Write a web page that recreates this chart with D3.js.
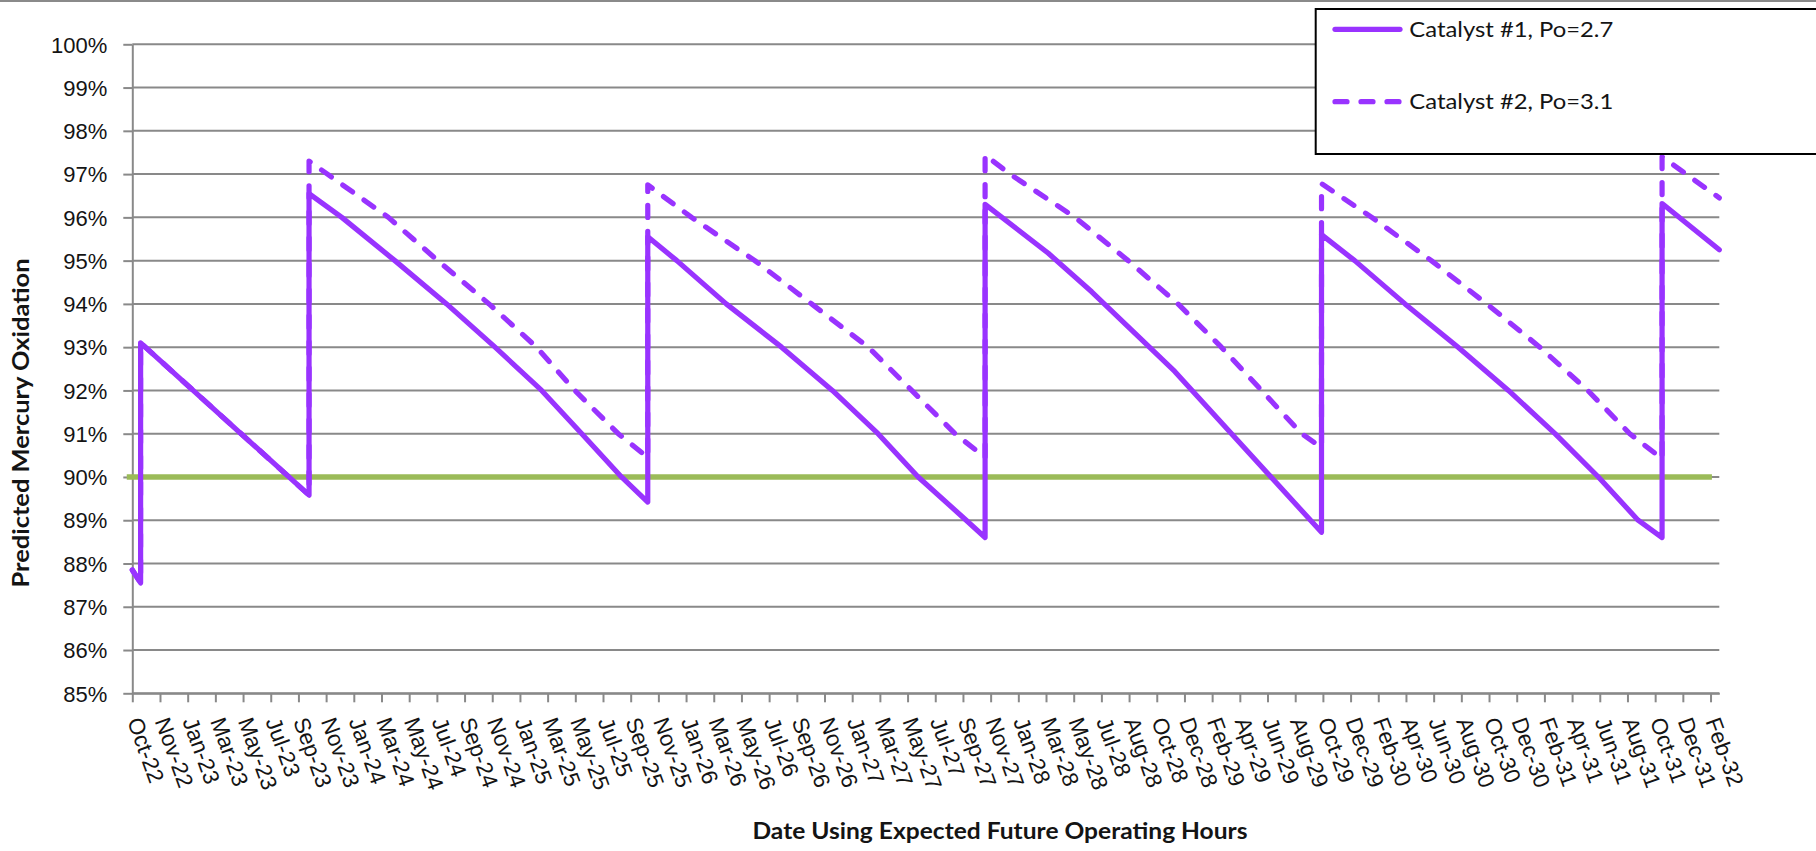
<!DOCTYPE html>
<html>
<head>
<meta charset="utf-8">
<script src="https://cdn.jsdelivr.net/npm/d3@7"></script>
<style>
  html, body { margin: 0; padding: 0; background: #ffffff; }
  svg { display: block; font-family: Lato, "Open Sans", sans-serif; }
</style>
</head>
<body>
<svg id="chart" width="1816" height="851"></svg>
<script>
// Axis tick labels (one every 60 days from the first tick date)
const tickStart = "2022-10-01";
const tickStepDays = 60;
const tickLabels = [
  "Oct-22","Nov-22","Jan-23","Mar-23","May-23","Jul-23","Sep-23","Nov-23",
  "Jan-24","Mar-24","May-24","Jul-24","Sep-24","Nov-24","Jan-25","Mar-25",
  "May-25","Jul-25","Sep-25","Nov-25","Jan-26","Mar-26","May-26","Jul-26",
  "Sep-26","Nov-26","Jan-27","Mar-27","May-27","Jul-27","Sep-27","Nov-27",
  "Jan-28","Mar-28","May-28","Jul-28","Aug-28","Oct-28","Dec-28","Feb-29",
  "Apr-29","Jun-29","Aug-29","Oct-29","Dec-29","Feb-30","Apr-30","Jun-30",
  "Aug-30","Oct-30","Dec-30","Feb-31","Apr-31","Jun-31","Aug-31","Oct-31",
  "Dec-31","Feb-32"
];
const xDomain = ["2022-10-01", "2032-03-01"];
const yTicks = [85, 86, 87, 88, 89, 90, 91, 92, 93, 94, 95, 96, 97, 98, 99, 100];

// Predicted mercury oxidation (%), Catalyst #1
const catalyst1 = [
  ["2022-10-01", 87.85], ["2022-10-19", 87.55], ["2022-10-19", 93.10],
  ["2023-10-19", 89.58], ["2023-10-19", 96.55], ["2023-12-29", 96.00],
  ["2024-04-22", 95.00], ["2024-08-12", 94.00], ["2024-11-25", 93.00],
  ["2025-03-06", 92.00], ["2025-06-01", 91.00], ["2025-08-26", 90.00],
  ["2025-10-22", 89.42], ["2025-10-22", 95.55], ["2025-12-24", 95.00],
  ["2026-04-10", 94.00], ["2026-08-08", 93.00], ["2026-11-26", 92.00],
  ["2027-03-05", 91.00], ["2027-05-31", 90.00], ["2027-09-12", 89.00],
  ["2027-10-23", 88.60], ["2027-10-23", 96.30], ["2028-03-08", 95.17],
  ["2028-06-10", 94.28], ["2028-12-07", 92.44], ["2029-10-21", 88.72],
  ["2029-10-21", 95.60], ["2030-01-01", 95.00], ["2030-04-20", 94.00],
  ["2030-08-13", 93.00], ["2030-11-30", 92.00], ["2031-03-11", 91.00],
  ["2031-06-13", 90.00], ["2031-09-07", 89.00], ["2031-10-29", 88.60],
  ["2031-10-29", 96.32], ["2032-03-01", 95.25]
];

// Predicted mercury oxidation (%), Catalyst #2
const catalyst2 = [
  ["2022-10-01", 87.85], ["2022-10-19", 87.55], ["2022-10-19", 93.10],
  ["2023-10-19", 89.58], ["2023-10-19", 97.30], ["2024-04-08", 96.00],
  ["2024-07-24", 95.00], ["2024-11-12", 94.00], ["2025-02-23", 93.00],
  ["2025-05-17", 92.00], ["2025-08-19", 91.00], ["2025-10-22", 90.45],
  ["2025-10-22", 96.75], ["2026-01-25", 96.00], ["2026-06-11", 95.00],
  ["2026-10-12", 94.00], ["2027-02-12", 93.00], ["2027-05-17", 92.00],
  ["2027-08-19", 91.00], ["2027-10-23", 90.45], ["2027-10-23", 97.44],
  ["2027-12-16", 97.00], ["2028-05-05", 96.00], ["2028-08-28", 95.00],
  ["2028-12-14", 94.00], ["2029-03-18", 93.00], ["2029-06-13", 92.00],
  ["2029-09-08", 91.00], ["2029-10-21", 90.68], ["2029-10-21", 96.78],
  ["2030-02-07", 96.00], ["2030-06-16", 95.00], ["2030-10-14", 94.00],
  ["2031-02-06", 93.00], ["2031-05-21", 92.00], ["2031-08-20", 91.00],
  ["2031-10-29", 90.42], ["2031-10-29", 97.40], ["2032-03-01", 96.45]
];

// 90% oxidation target
const target = [["2022-09-19", 90], ["2032-02-14", 90]];

const seriesNames = ["Catalyst #1, Po=2.7", "Catalyst #2, Po=3.1"];

const purple = "#9933ff";
const green = "#9bbb59";
const gridGray = "#898989";
const textColor = "#141414";

const parse = d3.utcParse("%Y-%m-%d");
const svg = d3.select("#chart");
const W = 1816;

const plot = { left: 132.3, right: 1719.3, top: 44.3, bottom: 693.3 };

const x = d3.scaleUtc().domain(xDomain.map(parse)).range([plot.left, plot.right]);
const y = d3.scaleLinear().domain([85, 100]).range([plot.bottom, plot.top]);

// chart frame: top rule
svg.append("line")
  .attr("x1", 0).attr("x2", W).attr("y1", 1).attr("y2", 1)
  .attr("stroke", "#8a8a8a").attr("stroke-width", 2);

// horizontal gridlines
svg.append("g").selectAll("line").data(yTicks).join("line")
  .attr("x1", plot.left).attr("x2", plot.right)
  .attr("y1", d => y(d)).attr("y2", d => y(d))
  .attr("stroke", gridGray).attr("stroke-width", 2);

// y axis
const yAxis = svg.append("g")
  .attr("transform", `translate(${plot.left},0)`)
  .call(d3.axisLeft(y).tickValues(yTicks).tickFormat(d => d + "%").tickSize(9).tickPadding(16).tickSizeOuter(0));
yAxis.select(".domain").attr("stroke", gridGray).attr("stroke-width", 2);
yAxis.selectAll(".tick line").attr("stroke", gridGray).attr("stroke-width", 2);
yAxis.selectAll(".tick text")
  .attr("fill", textColor).style("font-size", "22px").attr("dy", "0.35em");

// x axis
const tickDates = tickLabels.map((_, i) => d3.utcDay.offset(parse(tickStart), i * tickStepDays));
const xAxis = svg.append("g")
  .attr("transform", `translate(0,${plot.bottom})`)
  .call(d3.axisBottom(x).tickValues(tickDates).tickFormat((d, i) => tickLabels[i]).tickSize(9).tickSizeOuter(0));
xAxis.select(".domain").attr("stroke", gridGray).attr("stroke-width", 2);
xAxis.selectAll(".tick line").attr("stroke", gridGray).attr("stroke-width", 2);
xAxis.selectAll(".tick text")
  .attr("fill", textColor).style("font-size", "22.5px")
  .attr("x", 0).attr("y", 0).attr("dy", "0.35em")
  .attr("text-anchor", "start")
  .attr("transform", "translate(1.5,25) rotate(70)");

// target line
const line = d3.line().x(d => x(parse(d[0]))).y(d => y(d[1]));
svg.append("path").datum(target)
  .attr("d", line).attr("fill", "none")
  .attr("stroke", green).attr("stroke-width", 5.5);

// catalyst series
const dash = "12 14";
svg.append("path").datum(catalyst1)
  .attr("d", line).attr("fill", "none")
  .attr("stroke", purple).attr("stroke-width", 5.2)
  .attr("stroke-linejoin", "round").attr("stroke-linecap", "round");
svg.append("path").datum(catalyst2)
  .attr("d", line).attr("fill", "none")
  .attr("stroke", purple).attr("stroke-width", 5.2)
  .attr("stroke-dasharray", dash)
  .attr("stroke-linejoin", "round").attr("stroke-linecap", "round");

// axis titles
svg.append("text")
  .attr("transform", "translate(21,423) rotate(-90)")
  .attr("text-anchor", "middle").attr("dy", "0.35em")
  .attr("textLength", 329).attr("lengthAdjust", "spacingAndGlyphs")
  .attr("fill", textColor).style("font-size", "22px").style("font-weight", "bold")
  .text("Predicted Mercury Oxidation");
svg.append("text")
  .attr("x", 1000).attr("y", 831.5)
  .attr("text-anchor", "middle").attr("dy", "0.35em")
  .attr("textLength", 495).attr("lengthAdjust", "spacingAndGlyphs")
  .attr("fill", textColor).style("font-size", "22px").style("font-weight", "bold")
  .text("Date Using Expected Future Operating Hours");

// legend
const legend = svg.append("g");
legend.append("rect")
  .attr("x", 1315.7).attr("y", 9).attr("width", 520).attr("height", 145)
  .attr("fill", "#ffffff").attr("stroke", "#000000").attr("stroke-width", 2);
const items = legend.selectAll("g.item").data(seriesNames).join("g")
  .attr("class", "item")
  .attr("transform", (d, i) => `translate(0,${i === 0 ? 29.3 : 101.7})`);
items.append("line")
  .attr("x1", 1335).attr("x2", 1400).attr("y1", 0).attr("y2", 0)
  .attr("stroke", purple).attr("stroke-width", 5.2).attr("stroke-linecap", "round")
  .attr("stroke-dasharray", (d, i) => i === 0 ? null : dash);
items.append("text")
  .attr("x", 1409.3).attr("y", 0).attr("dy", "0.35em")
  .attr("textLength", 204).attr("lengthAdjust", "spacingAndGlyphs")
  .attr("fill", textColor).style("font-size", "22px")
  .text(d => d);
</script>
</body>
</html>
